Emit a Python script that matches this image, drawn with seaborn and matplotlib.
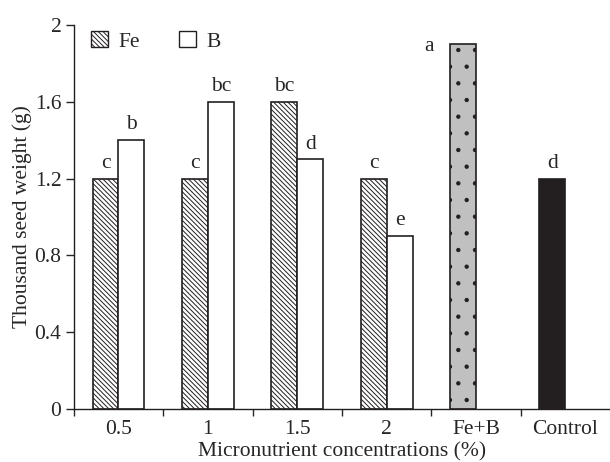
import matplotlib
matplotlib.use('Agg')
import matplotlib.pyplot as plt
import matplotlib.patches as mpatches
import pandas as pd
import seaborn as sns

# Data
groups = ['0.5', '1', '1.5', '2', 'Fe+B', 'Control']
fe_values = [1.2, 1.2, 1.6, 1.2]
b_values = [1.4, 1.6, 1.3, 0.9]
feb_value = 1.9
control_value = 1.2
fe_letters = ['c', 'c', 'bc', 'c']
b_letters = ['b', 'bc', 'd', 'e']
feb_letter = 'a'
control_letter = 'd'

# Long table: Fe+B and Control sit in the first (left) slot of their group
rows = []
for g, v in zip(groups[:4], fe_values):
    rows.append({'group': g, 'slot': 'Fe', 'value': v})
rows.append({'group': 'Fe+B', 'slot': 'Fe', 'value': feb_value})
rows.append({'group': 'Control', 'slot': 'Fe', 'value': control_value})
for g, v in zip(groups[:4], b_values):
    rows.append({'group': g, 'slot': 'B', 'value': v})
df = pd.DataFrame(rows)

sns.set_style('ticks')
plt.rcParams['font.family'] = ['Liberation Serif', 'DejaVu Serif']
plt.rcParams['hatch.linewidth'] = 0.7
FS = 15.5
HATCH = '\\' * 7

fig = plt.figure(figsize=(6.1, 4.62), dpi=100)
ax = fig.add_axes([0.121, 0.115, 0.879, 0.831])

sns.barplot(data=df, x='group', y='value', hue='slot', order=groups,
            hue_order=['Fe', 'B'], width=0.58, legend=False,
            errorbar=None, ax=ax)

fe_bars = ax.containers[0]
b_bars = ax.containers[1]

for i, bar in enumerate(fe_bars):
    bar.set_edgecolor('#231f20')
    bar.set_linewidth(1.2)
    if i < 4:
        bar.set_facecolor('white')
        bar.set_hatch(HATCH)
    elif i == 4:
        bar.set_facecolor('#c0c0c0')
        bar.set_hatch('.')
    else:
        bar.set_facecolor('#231f20')

for bar in b_bars:
    bar.set_facecolor('white')
    bar.set_edgecolor('#231f20')
    bar.set_linewidth(1.2)

# Significance letters
for bar, txt in zip(list(fe_bars)[:4], fe_letters):
    ax.text(bar.get_x() + bar.get_width() / 2, bar.get_height() + 0.03, txt,
            ha='center', va='bottom', fontsize=FS)
for bar, txt in zip(b_bars, b_letters):
    ax.text(bar.get_x() + bar.get_width() / 2, bar.get_height() + 0.03, txt,
            ha='center', va='bottom', fontsize=FS)
feb_bar = fe_bars[4]
ax.text(feb_bar.get_x() - 0.24, feb_bar.get_height() - 0.01, feb_letter,
        ha='center', va='center', fontsize=FS)
ctrl_bar = fe_bars[5]
ax.text(ctrl_bar.get_x() + ctrl_bar.get_width() / 2,
        ctrl_bar.get_height() + 0.03, control_letter,
        ha='center', va='bottom', fontsize=FS)

# Axes styling
ax.set_ylim(0, 2)
ax.set_xlim(-0.5, 5.5)
ax.set_yticks([0, 0.4, 0.8, 1.2, 1.6, 2])
ax.set_yticklabels(['0', '0.4', '0.8', '1.2', '1.6', '2'])
ax.set_xticks(range(len(groups)))
ax.set_xticklabels(groups)
ax.set_xticks([x - 0.5 for x in range(len(groups))], minor=True)
ax.tick_params(axis='x', which='major', length=0, pad=8, labelsize=FS)
ax.tick_params(axis='x', which='minor', length=5, width=1, direction='out')
ax.tick_params(axis='y', length=6, width=1, direction='out', labelsize=FS, pad=3)
ax.set_xlabel('Micronutrient concentrations (%)', fontsize=FS, labelpad=2)
ax.set_ylabel('Thousand seed weight (g)', fontsize=FS, labelpad=2)
for s in ['left', 'bottom']:
    ax.spines[s].set_linewidth(1)
    ax.spines[s].set_color('#231f20')
sns.despine(ax=ax)

# Legend
handles = [mpatches.Patch(facecolor='white', edgecolor='#231f20', hatch=HATCH, label='Fe'),
           mpatches.Patch(facecolor='white', edgecolor='#231f20', label='B')]
ax.legend(handles=handles, loc='upper left', ncol=2, frameon=False,
          fontsize=FS, handlelength=0.8, handleheight=0.8,
          handletextpad=0.5, columnspacing=1.8,
          bbox_to_anchor=(-0.005, 1.035), borderaxespad=0.5)

fig.savefig('out.png', dpi=100)
